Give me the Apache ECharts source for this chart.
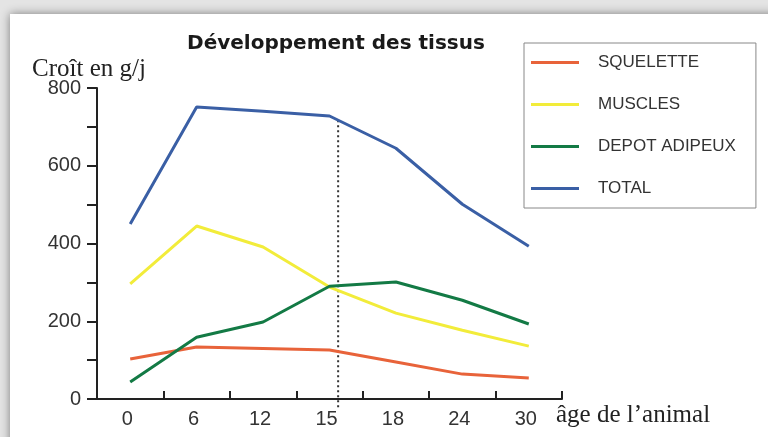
<!DOCTYPE html>
<html><head><meta charset="utf-8">
<script src="https://cdn.jsdelivr.net/npm/echarts@6/dist/echarts.min.js"></script>
<style>html,body{margin:0;padding:0;background:#fff}#c{width:768px;height:437px}</style>
</head><body><div id="c"></div>
<script>
const categories = ['0','6','12','15','18','24','30'];
const squelette = [103,134,130,126,95,64,54];
const muscles = [296,445,391,288,221,177,136];
const depot = [44,159,198,290,301,254,193];
const total = [450,751,740,728,645,501,393];
const seriesNames = ['SQUELETTE','MUSCLES','DEPOT ADIPEUX','TOTAL'];
const markerX = 3.63;      // position of dotted reference line (category band units)
const markerTop = 717;
const markerBottom = -28;

const colors = ['#e8633a','#f2ec3a','#137a45','#3a5fa5'];
const chart = echarts.init(document.getElementById('c'), null, {renderer:'canvas'});
const sans = 'Liberation Sans, Arial, sans-serif';
const serif = 'Liberation Serif, Times New Roman, serif';
const mk = (name, data, i) => ({
  name, type:'line', data, symbol:'none', xAxisIndex:0,
  lineStyle:{color:colors[i], width:3}, itemStyle:{color:colors[i]}, z:3+i
});
chart.setOption({
  animation:false,
  backgroundColor:'#e4e4e4',
  graphic:[{type:'rect', left:10, top:14, shape:{width:780, height:460}, z:-10,
    style:{fill:'#ffffff', shadowBlur:9, shadowColor:'rgba(0,0,0,0.45)', shadowOffsetX:0, shadowOffsetY:0}}],
  title:{text:'Développement des tissus', left:331, textAlign:'center', top:29,
    textStyle:{fontFamily:'DejaVu Sans, sans-serif', fontWeight:'bold', fontSize:20, color:'#1a1a1a'}},
  legend:{orient:'vertical', left:524, top:43, padding:[11,20,11,7],
    borderColor:'#888', borderWidth:1, itemWidth:48, itemHeight:3, itemGap:25, icon:'rect',
    data:seriesNames,
    textStyle:{fontFamily:sans, fontSize:17, color:'#333', lineHeight:17, padding:[0,0,0,14]}},
  grid:{left:97, right:206, top:88, bottom:38, containLabel:false},
  xAxis:[{type:'category', data:categories, boundaryGap:true,
    name:'âge de l’animal', nameLocation:'end', nameGap:-6,
    nameTextStyle:{fontFamily:serif, fontSize:25, color:'#222', align:'left', verticalAlign:'top', padding:[4,0,0,0]},
    axisLine:{lineStyle:{color:'#222', width:2}},
    axisTick:{show:true, inside:true, length:8, lineStyle:{color:'#222', width:2}},
    axisLabel:{fontFamily:sans, fontSize:20, color:'#333', margin:10, padding:[0,6,0,0]},
    splitLine:{show:false}},
   {type:'value', min:0, max:7, show:false}],
  yAxis:{type:'value', min:0, max:800, interval:100,
    name:'Croît en g/j', nameLocation:'end', nameGap:19, nameMoveOverlap:false,
    nameTextStyle:{fontFamily:serif, fontSize:25, color:'#222', align:'center', verticalAlign:'middle', padding:[0,16,0,0]},
    axisLine:{show:true, lineStyle:{color:'#222', width:2}},
    axisTick:{show:true, length:10, lineStyle:{color:'#222', width:2}},
    axisLabel:{fontFamily:sans, fontSize:20, color:'#333', margin:16,
      formatter:v => (v % 200 === 0 ? String(v) : '')},
    splitLine:{show:false}},
  series:[
    mk(seriesNames[0], squelette, 0),
    mk(seriesNames[1], muscles, 1),
    mk(seriesNames[2], depot, 2),
    mk(seriesNames[3], total, 3),
    {type:'line', xAxisIndex:1, data:[[markerX, markerTop],[markerX, markerBottom]], symbol:'none',
     clip:false, silent:true, lineStyle:{color:'#333', width:2, type:[2,3]}, z:2}
  ]
});
</script></body></html>
